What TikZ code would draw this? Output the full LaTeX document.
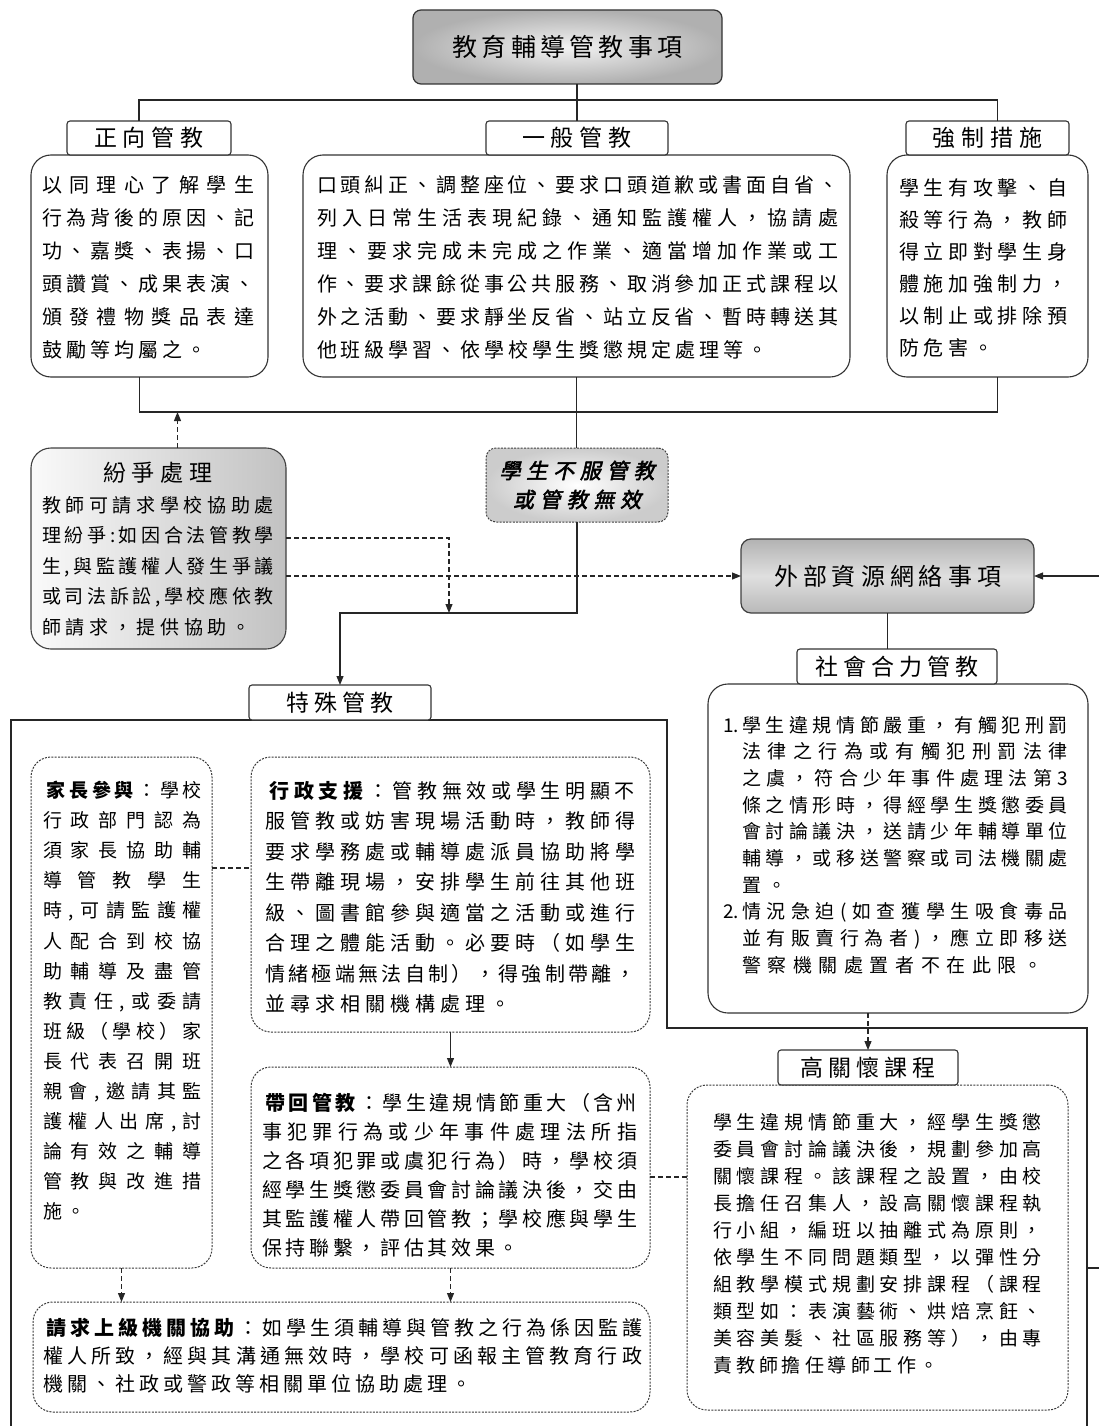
\documentclass[tikz,border=0pt]{standalone}
\usepackage{fontspec}
\setmainfont{Noto Sans CJK TC}
\newfontfamily\qfont{Noto Sans CJK TC}[FakeSlant=0.22,FakeBold=2.5]
\usetikzlibrary{arrows.meta,calc}
\newlength\lw
\newlength\ls
\makeatletter
\def\spr#1{\spr@a#1\@nil}
\def\spr@a#1{#1\spr@b}
\def\spr@b#1{\ifx\@nil#1\else\ifx\bon#1\else\ifx\boff#1\else\sepg\fi\fi#1\expandafter\spr@b\fi}
\makeatother
\newcommand\bon{\bfseries}
\newcommand\boff{\mdseries}
\newcommand\jline[1]{\makebox[\lw][s]{\let\sepg\hfill\spr{#1}}}
\newcommand\lline[1]{\mbox{\def\sepg{\hskip\ls}\spr{#1}}}
\begin{document}
\begin{tikzpicture}[x=1pt,y=-1pt,
  every node/.style={inner sep=0pt,outer sep=0pt},
  tw/.style={execute at begin node={\setlength{\lw}{#1}}},
  lsp/.style={execute at begin node={\setlength{\ls}{#1}}},
  fs/.style 2 args={font=\fontsize{#1}{#2}\selectfont},
  sbox/.style={draw=black!80, line width=1.1pt, rounded corners=20pt, anchor=north west},
  dbox/.style={draw=black!78, line width=1pt, dash pattern=on 2pt off 1.3pt, rounded corners=20pt, anchor=north west},
  lab/.style={draw=black!80, line width=1.1pt, rounded corners=3pt, fill=white, anchor=north west, fs={23}{28}, lsp=6pt},
  body/.style={anchor=north west, align=left},
  arr/.style={-{Triangle[length=9pt,width=7pt]}},
  conn/.style={draw=black!85, line width=1.1pt},
  dconn/.style={draw=black!85, line width=1.1pt, dash pattern=on 5pt off 3pt}]
\useasboundingbox (0,0) rectangle (1099,1426);

% special frame
\draw[conn] (11,1426) -- (11,720) -- (667,720) -- (667,1028) -- (1087,1028) -- (1087,1426);
\draw[conn] (1087,1268) -- (1099,1268);

% top
\node[draw=black!80, line width=1.2pt, rounded corners=8pt, shading=radial, inner color=gray!10, outer color=gray!62,
      minimum width=309, minimum height=74, fs={25}{30}, lsp=4.3pt] (top) at (567.5,47) {\lline{教育輔導管教事項}};

% three categories
\node[sbox, minimum width=237, minimum height=222] (c1) at (31,155) {};
\node[sbox, minimum width=547, minimum height=222] (c2) at (303,155) {};
\node[sbox, minimum width=201, minimum height=222] (c3) at (887,155) {};
\node[lab, minimum width=164, minimum height=34] (l1) at (67,121) {\lline{正向管教}};
\node[lab, minimum width=182, minimum height=34] (l2) at (486,121) {\lline{一般管教}};
\node[lab, minimum width=163, minimum height=34] (l3) at (906,121) {\lline{強制措施}};

\node[body, fs={20}{33}, tw=212pt, lsp=4pt] (t1) at (42,176) {%
\jline{以同理心了解學生}\\
\jline{行為背後的原因、記}\\
\jline{功、嘉獎、表揚、口}\\
\jline{頭讚賞、成果表演、}\\
\jline{頒發禮物獎品表達}\\
\lline{鼓勵等均屬之。}};
\node[body, fs={20}{33}, tw=521pt, lsp=3.9pt] (t2) at (317,176) {%
\jline{口頭糾正、調整座位、要求口頭道歉或書面自省、}\\
\jline{列入日常生活表現紀錄、通知監護權人，協請處}\\
\jline{理、要求完成未完成之作業、適當增加作業或工}\\
\jline{作、要求課餘從事公共服務、取消參加正式課程以}\\
\jline{外之活動、要求靜坐反省、站立反省、暫時轉送其}\\
\lline{他班級學習、依學校學生獎懲規定處理等。}};
\node[body, fs={20}{32}, tw=168pt, lsp=4.7pt] (t3) at (899,179) {%
\jline{學生有攻擊、自}\\
\jline{殺等行為，教師}\\
\jline{得立即對學生身}\\
\jline{體施加強制力，}\\
\jline{以制止或排除預}\\
\lline{防危害。}};

% dispute
\node[draw=black!75, line width=1.1pt, rounded corners=20pt, anchor=north west, left color=gray!4, right color=gray!48,
      minimum width=255, minimum height=201] (d) at (31,448) {};
\node[fs={23}{28}, lsp=6pt] (dt) at (158,473) {\lline{紛爭處理}};
\node[body, fs={19}{30.5}, tw=232pt, lsp=4.7pt] (t4) at (42,496) {%
\jline{教師可請求學校協助處}\\
\jline{理紛爭:如因合法管教學}\\
\jline{生,與監護權人發生爭議}\\
\jline{或司法訴訟,學校應依教}\\
\lline{師請求，提供協助。}};

% not obeying
\node[draw=black!75, line width=1pt, dash pattern=on 2pt off 1.3pt, rounded corners=10pt, shading=radial, inner color=white, outer color=gray!40,
      minimum width=182, minimum height=74, align=center, fs={21}{29}, lsp=5.8pt] (q) at (577,485) {{\qfont\lline{學生不服管教}}\\{\qfont\lline{或管教無效}}};

% external resources
\node[draw=black!75, line width=1.2pt, rounded corners=10pt, top color=gray!60, bottom color=gray!55, middle color=gray!25,
      minimum width=293, minimum height=74, fs={24}{30}, lsp=5pt] (e) at (887.5,576) {\lline{外部資源網絡事項}};

\node[sbox, minimum width=380, minimum height=329] (c5) at (708,684) {};
\node[lab, minimum width=200, minimum height=35, lsp=5pt] (l5) at (797,649) {\lline{社會合力管教}};
\node[body, fs={19}{26.7}, tw=326pt, lsp=6.6pt] (t5) at (723,716) {%
\makebox[19pt][l]{1.}\jline{學生違規情節嚴重，有觸犯刑罰}\\
\hspace*{19pt}\jline{法律之行為或有觸犯刑罰法律}\\
\hspace*{19pt}\jline{之虞，符合少年事件處理法第3}\\
\hspace*{19pt}\jline{條之情形時，得經學生獎懲委員}\\
\hspace*{19pt}\jline{會討論議決，送請少年輔導單位}\\
\hspace*{19pt}\jline{輔導，或移送警察或司法機關處}\\
\hspace*{19pt}\lline{置。}\\
\makebox[19pt][l]{2.}\jline{情況急迫(如查獲學生吸食毒品}\\
\hspace*{19pt}\jline{並有販賣行為者)，應立即移送}\\
\hspace*{19pt}\lline{警察機關處置者不在此限。}};

\node[dbox, minimum width=381, minimum height=325] (c6) at (687,1085) {};
\node[lab, minimum width=180, minimum height=35, lsp=5pt] (l6) at (778,1050) {\lline{高關懷課程}};
\node[body, fs={19}{27}, tw=329pt, lsp=4pt] (t6) at (713,1113) {%
\jline{學生違規情節重大，經學生獎懲}\\
\jline{委員會討論議決後，規劃參加高}\\
\jline{關懷課程。該課程之設置，由校}\\
\jline{長擔任召集人，設高關懷課程執}\\
\jline{行小組，編班以抽離式為原則，}\\
\jline{依學生不同問題類型，以彈性分}\\
\jline{組教學模式規劃安排課程（課程}\\
\jline{類型如：表演藝術、烘焙烹飪、}\\
\jline{美容美髮、社區服務等），由專}\\
\lline{責教師擔任導師工作。}};

% special discipline
\node[lab, minimum width=182, minimum height=35, lsp=5pt] (l4) at (249,685) {\lline{特殊管教}};
\node[dbox, minimum width=181, minimum height=511] (p) at (31,757) {};
\node[dbox, minimum width=399, minimum height=275] (g) at (251,757) {};
\node[dbox, minimum width=399, minimum height=201] (h) at (251,1067) {};
\node[dbox, minimum width=617, minimum height=110] (k) at (33,1302) {};

\node[body, fs={19}{30.1}, tw=159pt, lsp=4.3pt] (tp) at (43,781) {%
\jline{\bon 家長參與\boff ：學校}\\
\jline{行政部門認為}\\
\jline{須家長協助輔}\\
\jline{導管教學生}\\
\jline{時,可請監護權}\\
\jline{人配合到校協}\\
\jline{助輔導及盡管}\\
\jline{教責任,或委請}\\
\jline{班級（學校）家}\\
\jline{長代表召開班}\\
\jline{親會,邀請其監}\\
\jline{護權人出席,討}\\
\jline{論有效之輔導}\\
\jline{管教與改進措}\\
\lline{施。}};
\node[body, fs={20}{30.5}, tw=370pt, lsp=5pt] (tg) at (265,781) {%
\jline{\bon 行政支援\boff ：管教無效或學生明顯不}\\
\jline{服管教或妨害現場活動時，教師得}\\
\jline{要求學務處或輔導處派員協助將學}\\
\jline{生帶離現場，安排學生前往其他班}\\
\jline{級、圖書館參與適當之活動或進行}\\
\jline{合理之體能活動。必要時（如學生}\\
\jline{情緒極端無法自制），得強制帶離，}\\
\lline{並尋求相關機構處理。}};
\node[body, fs={20}{29}, tw=375pt, lsp=3.7pt] (th) at (262,1093) {%
\jline{\bon 帶回管教\boff ：學生違規情節重大（含州}\\
\jline{事犯罪行為或少年事件處理法所指}\\
\jline{之各項犯罪或虞犯行為）時，學校須}\\
\jline{經學生獎懲委員會討論議決後，交由}\\
\jline{其監護權人帶回管教；學校應與學生}\\
\lline{保持聯繫，評估其效果。}};
\node[body, fs={20}{28}, tw=599pt, lsp=4pt] (tk) at (43,1318) {%
\jline{\bon 請求上級機關協助\boff ：如學生須輔導與管教之行為係因監護}\\
\jline{權人所致，經與其溝通無效時，學校可函報主管教育行政}\\
\lline{機關、社政或警政等相關單位協助處理。}};

% connectors
\draw[conn] (l2.north) -- (l2.north |- top.south);
\draw[conn] ([xshift=-10pt]l1.north) -- ++(0,-21) -| ([xshift=10pt]l3.north);
\draw[conn] ([xshift=-10pt]c1.south) -- ++(0,35) coordinate (bl1) -| ([xshift=10pt]c3.south);
\draw[conn] (c2.south) -- (c2.south |- q.north);
\draw[conn,arr] (q.south) -- ++(0,91) coordinate (mj) -| (l4.north);
\draw[dconn,arr] ([xshift=19pt]d.north) -- ([xshift=19pt]d.north |- bl1);
\draw[dconn,arr] ([yshift=10.5pt]d.east) -| ([xshift=-128pt]mj);
\draw[dconn,arr] (d.east |- e.west) -- (e.west);
\coordinate (rin) at (1099,576);
\draw[conn,arr] (rin) -- (e.east);
\draw[conn] (e.south) -- (e.south |- l5.north);
\draw[dconn,arr] (c5.south -| l6.north) -- (l6.north);
\draw[dconn] ([yshift=26.5pt]g.west -| p.east) -- ([yshift=26.5pt]g.west);
\draw[conn,arr] (g.south) -- (h.north);
\draw[dconn,arr] (p.south) -- (p.south |- k.north);
\draw[dconn,arr] (h.south) -- (h.south |- k.north);
\draw[dconn] ([yshift=-9.5pt]h.east) -- ([yshift=-9.5pt]h.east -| c6.west);
\end{tikzpicture}
\end{document}
